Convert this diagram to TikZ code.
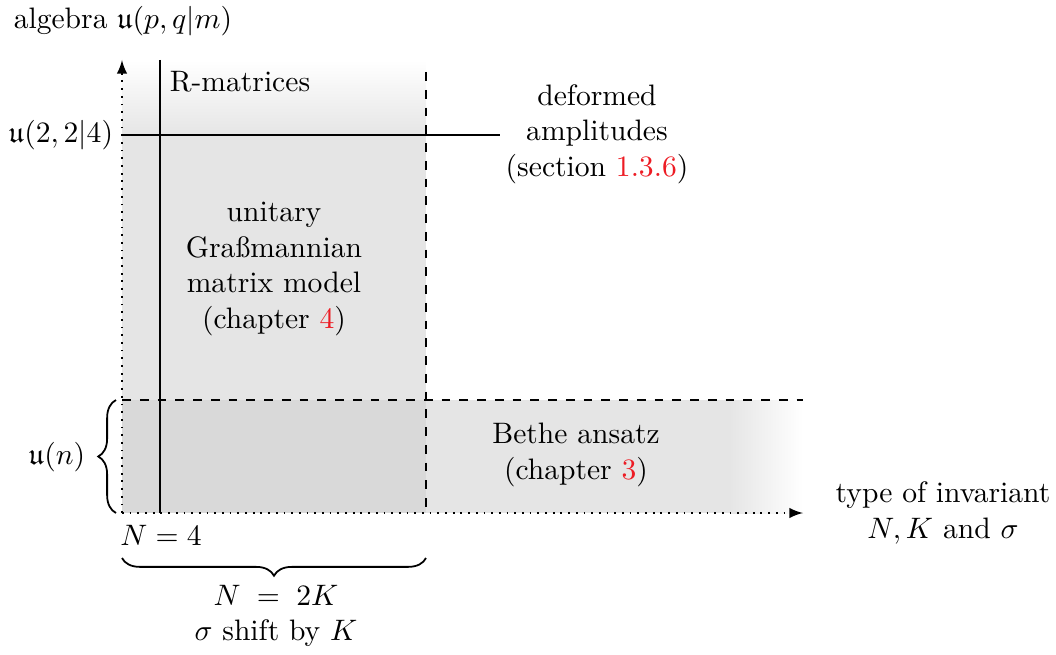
\documentclass[tikz,border=0pt]{standalone}
\usepackage{amsfonts}
\usetikzlibrary{decorations.pathreplacing,arrows}
\definecolor{refred}{RGB}{237,28,36}
\tikzset{
  lbl/.style={inner sep=0pt, align=center},
  axisline/.style={dotted, line width=0.6pt, -latex},
  mainline/.style={line width=0.6pt},
  dashline/.style={dashed, line width=0.6pt},
  bracedeco/.style={decorate, decoration={brace, amplitude=6pt}, line width=0.6pt}
}
\begin{document}
\begin{tikzpicture}[x=0.338pt, y=-0.338pt]
\useasboundingbox (0,0) rectangle (1056,655);
% coordinates
\coordinate (O) at (122,513);
\coordinate (ytop) at (122,60);
\coordinate (xend) at (803,513);
% shaded regions
\shade[top color=white, bottom color=black!10] (122,60) rectangle (426,135);
\fill[black!10] (122,135) rectangle (426,400);
\fill[black!15] (122,400) rectangle (426,513);
\fill[black!10] (426,400) rectangle (730,513);
\shade[left color=black!10, right color=white] (730,400) rectangle (803,513);
% lines
\coordinate (vtop) at (160,60);
\coordinate (vbot) at (160,513);
\draw[mainline] (vtop) -- (vbot);
\coordinate (hl) at (122,135);
\coordinate (hr) at (500,135);
\draw[mainline] (hl) -- (hr);
\coordinate (dtop) at (426,72);
\coordinate (dbot) at (426,513);
\draw[dashline] (dtop) -- (dbot);
\coordinate (dl) at (122,400);
\coordinate (dr) at (803,400);
\draw[dashline] (dl) -- (dr);
% axes
\draw[axisline] (O) -- (ytop);
\draw[axisline] (O) -- (xend);
% braces
\coordinate (lb1) at (116,513);
\coordinate (lb2) at (116,400);
\draw[bracedeco] (lb1) -- (lb2);
\coordinate (bb1) at (426,558);
\coordinate (bb2) at (122,558);
\draw[bracedeco] (bb1) -- (bb2);
% labels
\node[lbl] (alg) at (123,21) {algebra $\mathfrak{u}(p,q|m)$};
\node[lbl] (u224) at (61,135) {$\mathfrak{u}(2,2|4)$};
\node[lbl] (un) at (57,457) {$\mathfrak{u}(n)$};
\node[lbl] (rmat) at (240,82) {R-matrices};
\node[lbl] (defamp) at (597,134) {deformed\\amplitudes\\(section \textcolor{refred}{1.3.6})};
\node[lbl] (ugmm) at (274,269) {unitary\\Gra\ss mannian\\matrix model\\(chapter \textcolor{refred}{4})};
\node[lbl] (bethe) at (576,455) {Bethe ansatz\\(chapter \textcolor{refred}{3})};
\node[lbl] (typ) at (943,513) {type of invariant\\$N,K$ and $\sigma$};
\node[lbl] (n4) at (161,535) {$N=4$};
\node[lbl] (n2k) at (276,616) {$N\;=\;2K$\\$\sigma$ shift by $K$};
\end{tikzpicture}
\end{document}
